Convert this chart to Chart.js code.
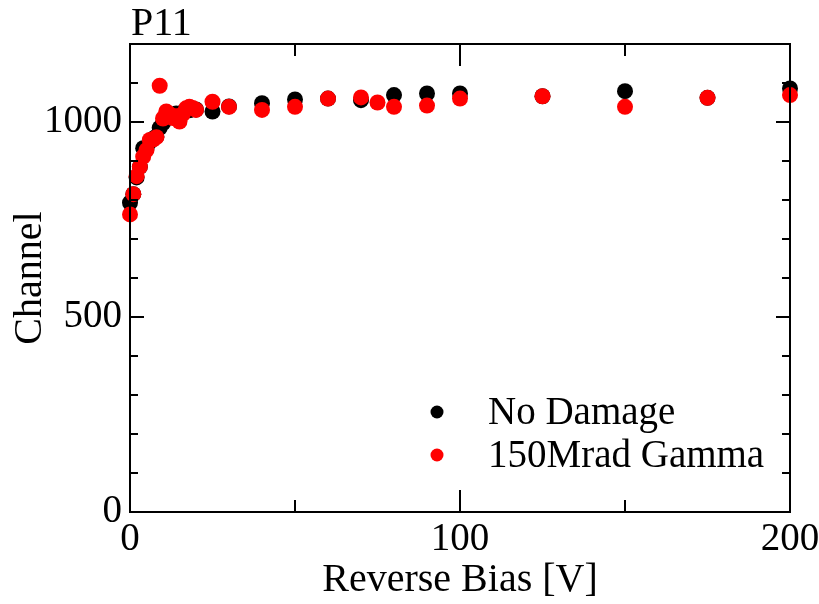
<!DOCTYPE html>
<html>
<head>
<meta charset="utf-8">
<script src="https://cdn.jsdelivr.net/npm/chart.js@4"></script>
<style>
html,body{margin:0;padding:0;background:#fff;}
#wrap{width:819px;height:604px;}
</style>
</head>
<body>
<div id="wrap"><canvas id="c" width="819" height="604"></canvas></div>
<script>
const chartTitle = "P11";
const xTitle = "Reverse Bias [V]";
const yTitle = "Channel";
const seriesNames = ["No Damage", "150Mrad Gamma"];

const noDamageX = [0,1,2,3,4,5,6,7,8,9,10,12,14,16,18,20,25,30,40,50,60,70,80,90,100,125,150,175,200];
const noDamageY = [793,815,858,885,933,932,950,957,963,985,997,1012,1022,1025,1030,1032,1027,1040,1048,1058,1060,1056,1069,1073,1073,1066,1079,1062,1086];

const gammaX = [0,1,2,3,4,5,6,7,8,9,10,11,12,13,14,15,16,17,18,19,20,25,30,40,50,60,70,75,80,90,100,125,150,175,200];
const gammaY = [763,815,861,885,911,928,954,955,961,1093,1009,1027,1020,1010,1015,1001,1020,1035,1039,1036,1031,1052,1039,1031,1039,1060,1063,1050,1039,1042,1060,1066,1039,1062,1069];

const xMajorTicks = [0,100,200];
const xMinorTicks = [50,150];
const yMajorTicks = [0,500,1000];
const yMinorTicks = [100,200,300,400,600,700,800,900,1100];

const FONT = "'Liberation Serif','Times New Roman',serif";

function pts(xs, ys){ return xs.map((x,i)=>({x:x, y:ys[i]})); }

const framePlugin = {
  id:'frame',
  afterDatasetsDraw(chart){
    const {ctx, chartArea:a, scales:{x, y}} = chart;
    ctx.save();
    ctx.strokeStyle = '#000';
    ctx.lineWidth = 2;
    ctx.strokeRect(a.left, a.top, a.right - a.left, a.bottom - a.top);
    ctx.beginPath();
    const tick = (vals, len, horiz) => {
      vals.forEach(v=>{
        if(horiz){
          const px = x.getPixelForValue(v);
          ctx.moveTo(px, a.bottom); ctx.lineTo(px, a.bottom - len);
          ctx.moveTo(px, a.top); ctx.lineTo(px, a.top + len);
        } else {
          const py = y.getPixelForValue(v);
          ctx.moveTo(a.left, py); ctx.lineTo(a.left + len, py);
          ctx.moveTo(a.right, py); ctx.lineTo(a.right - len, py);
        }
      });
    };
    tick(xMajorTicks, 22, true);
    tick(xMinorTicks, 12, true);
    tick(yMajorTicks, 14, false);
    tick(yMinorTicks, 8, false);
    ctx.stroke();
    ctx.restore();
  },
  afterDraw(chart){
    const {ctx, chartArea:a} = chart;
    ctx.save();
    ctx.fillStyle = '#000';
    ctx.font = "40px " + FONT;
    ctx.textBaseline = 'alphabetic';
    ctx.textAlign = 'left';
    ctx.fillText(chartTitle, a.left + 1, 35);
    // legend
    ctx.font = "39px " + FONT;
    ctx.textBaseline = 'middle';
    chart.data.datasets.forEach((ds, i)=>{
      const cy = a.top + 368 + i*43;
      const cx = a.left + 307;
      ctx.beginPath();
      ctx.fillStyle = ds.backgroundColor;
      ctx.arc(cx, cy, 6.5, 0, Math.PI*2);
      ctx.fill();
      ctx.fillStyle = '#000';
      ctx.fillText(ds.label, a.left + 358, cy + 2);
    });
    ctx.restore();
  }
};

new Chart(document.getElementById('c'), {
  type:'scatter',
  data:{
    datasets:[
      {label:seriesNames[0], data:pts(noDamageX,noDamageY), backgroundColor:'#000000', borderWidth:0, pointRadius:8, pointHoverRadius:8, order:2, clip:false},
      {label:seriesNames[1], data:pts(gammaX,gammaY), backgroundColor:'#ff0000', borderWidth:0, pointRadius:8, pointHoverRadius:8, order:1, clip:false}
    ]
  },
  options:{
    responsive:false,
    animation:false,
    events:[],
    layout:{padding:{top:44, right:29, left:0, bottom:0}},
    plugins:{legend:{display:false}, tooltip:{enabled:false}, title:{display:false}},
    scales:{
      x:{
        type:'linear', min:0, max:200,
        afterBuildTicks(s){ s.ticks = xMajorTicks.map(v=>({value:v})); },
        afterFit(s){ s.height = 92; s.paddingLeft = 0; s.paddingRight = 0; },
        grid:{display:false, drawTicks:false},
        border:{display:false},
        ticks:{color:'#000', font:{family:FONT, size:39}, padding:4, maxRotation:0, autoSkip:false, callback:(v)=>String(v)},
        title:{display:true, text:xTitle, color:'#000', font:{family:FONT, size:40}, padding:{top:0,bottom:0}}
      },
      y:{
        type:'linear', min:0, max:1200,
        afterBuildTicks(s){ s.ticks = yMajorTicks.map(v=>({value:v})); },
        afterFit(s){ s.width = 130; s.paddingTop = 0; s.paddingBottom = 0; },
        grid:{display:false, drawTicks:false},
        border:{display:false},
        ticks:{color:'#000', font:{family:FONT, size:39}, padding:8, autoSkip:false, callback:(v)=>String(v)},
        title:{display:true, text:yTitle, color:'#000', font:{family:FONT, size:40}, padding:{top:6,bottom:0}}
      }
    }
  },
  plugins:[framePlugin]
});
</script>
</body>
</html>
